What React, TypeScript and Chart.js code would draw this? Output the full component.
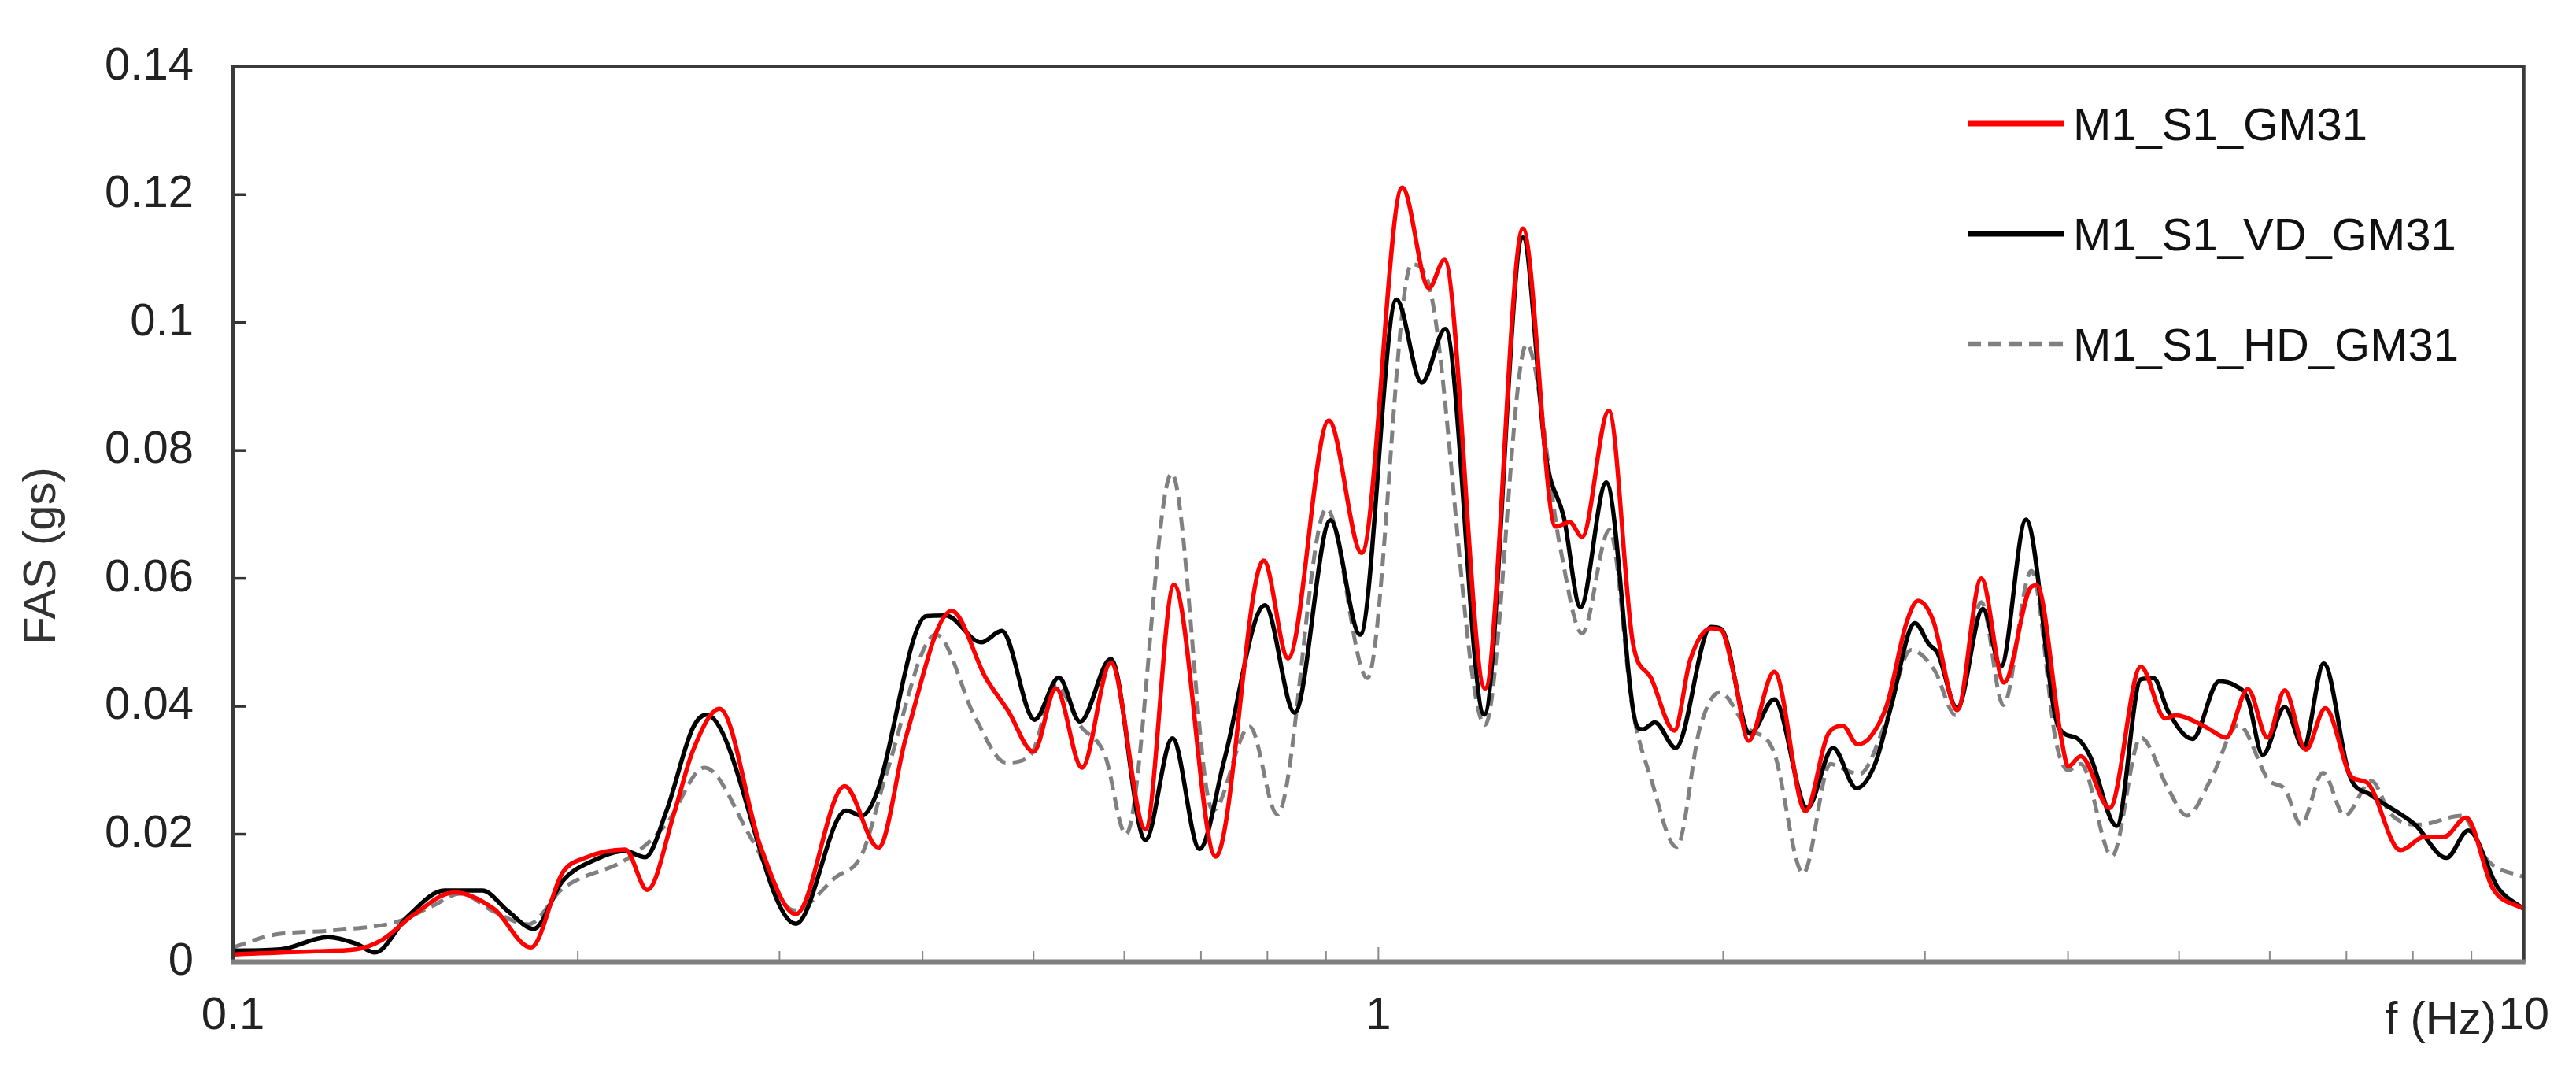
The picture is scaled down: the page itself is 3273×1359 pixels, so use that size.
import React, { useEffect, useRef } from 'react';
import { Chart, registerables } from 'chart.js';

Chart.register(...registerables);

// ---------------- data ----------------
const seriesNames = ['M1_S1_GM31', 'M1_S1_VD_GM31', 'M1_S1_HD_GM31'];

const redFreq = [0.1, 0.118, 0.128, 0.135, 0.144, 0.156, 0.169, 0.182, 0.194, 0.203, 0.220, 0.230, 0.243, 0.252, 0.266, 0.289, 0.310, 0.342, 0.366, 0.387, 0.424, 0.454, 0.475, 0.500, 0.523, 0.551, 0.584, 0.626, 0.663, 0.721, 0.794, 0.834, 0.905, 0.967, 1.049, 1.107, 1.142, 1.239, 1.337, 1.428, 1.469, 1.506, 1.589, 1.668, 1.729, 1.813, 1.871, 1.951, 1.992, 2.046, 2.104, 2.216, 2.360, 2.470, 2.545, 2.618, 2.685, 2.779, 2.890, 2.959, 3.049, 3.201, 3.360, 3.517, 3.716, 3.757, 3.945, 4.002, 4.103, 4.349, 4.630, 4.862, 4.962, 5.284, 5.495, 5.742, 5.973, 6.183, 6.451, 6.709, 7.078, 7.293, 7.802, 8.190, 8.520, 8.903, 9.39, 10];
const redFas = [0.0012, 0.0017, 0.002, 0.0035, 0.0075, 0.0109, 0.0083, 0.0023, 0.014, 0.0163, 0.0176, 0.0113, 0.0236, 0.033, 0.0396, 0.0179, 0.0075, 0.0275, 0.0179, 0.0353, 0.0549, 0.0445, 0.0393, 0.0329, 0.0428, 0.0304, 0.0468, 0.0208, 0.059, 0.0165, 0.0628, 0.0475, 0.0847, 0.064, 0.1211, 0.1054, 0.1098, 0.0428, 0.1147, 0.0681, 0.0688, 0.0665, 0.0862, 0.0499, 0.0445, 0.0362, 0.0472, 0.0522, 0.0519, 0.0445, 0.0346, 0.0454, 0.0236, 0.0357, 0.0369, 0.0341, 0.0351, 0.0402, 0.053, 0.0565, 0.0535, 0.0394, 0.06, 0.0437, 0.0587, 0.0589, 0.0351, 0.0306, 0.0322, 0.0241, 0.0462, 0.0381, 0.0386, 0.0367, 0.0351, 0.0427, 0.0351, 0.0425, 0.0332, 0.0397, 0.0289, 0.0281, 0.0175, 0.0196, 0.0196, 0.0226, 0.0116, 0.0083];

const blackFreq = [0.1, 0.110, 0.121, 0.128, 0.133, 0.142, 0.153, 0.165, 0.174, 0.183, 0.194, 0.207, 0.220, 0.229, 0.239, 0.252, 0.259, 0.310, 0.343, 0.354, 0.364, 0.403, 0.419, 0.450, 0.469, 0.501, 0.526, 0.549, 0.584, 0.626, 0.661, 0.698, 0.734, 0.796, 0.845, 0.908, 0.964, 1.037, 1.091, 1.144, 1.237, 1.337, 1.401, 1.452, 1.501, 1.581, 1.684, 1.702, 1.743, 1.818, 1.951, 1.992, 2.111, 2.216, 2.368, 2.494, 2.614, 2.714, 2.801, 2.940, 3.025, 3.078, 3.201, 3.371, 3.495, 3.676, 3.926, 4.064, 4.181, 4.411, 4.630, 4.750, 4.892, 5.137, 5.419, 5.575, 5.742, 5.916, 6.183, 6.421, 6.688, 7.043, 7.360, 8.036, 8.560, 8.944, 9.495, 10];
const blackFas = [0.0018, 0.002, 0.0039, 0.0029, 0.0015, 0.0071, 0.0112, 0.0112, 0.0079, 0.0052, 0.0127, 0.016, 0.0174, 0.0164, 0.0236, 0.0366, 0.0387, 0.006, 0.0237, 0.0229, 0.026, 0.0541, 0.0542, 0.05, 0.0518, 0.0379, 0.0445, 0.0376, 0.0474, 0.0191, 0.035, 0.0177, 0.0318, 0.0558, 0.039, 0.0691, 0.0512, 0.1036, 0.0906, 0.099, 0.0387, 0.1133, 0.0788, 0.0695, 0.0555, 0.075, 0.0367, 0.0364, 0.0375, 0.0335, 0.0524, 0.0521, 0.0357, 0.0411, 0.0241, 0.0335, 0.0272, 0.031, 0.0398, 0.053, 0.0497, 0.0483, 0.0397, 0.0552, 0.0462, 0.0692, 0.0367, 0.0351, 0.0322, 0.0213, 0.0442, 0.0444, 0.0392, 0.0349, 0.0439, 0.0434, 0.0411, 0.0324, 0.0399, 0.0336, 0.0467, 0.0292, 0.0261, 0.0215, 0.0163, 0.0206, 0.0116, 0.0083];

const grayFreq = [0.1, 0.108, 0.123, 0.139, 0.149, 0.158, 0.169, 0.181, 0.194, 0.222, 0.239, 0.258, 0.284, 0.309, 0.336, 0.354, 0.372, 0.411, 0.445, 0.473, 0.497, 0.523, 0.549, 0.577, 0.602, 0.660, 0.717, 0.772, 0.816, 0.901, 0.978, 1.069, 1.108, 1.239, 1.347, 1.441, 1.506, 1.591, 1.668, 1.729, 1.821, 1.909, 1.986, 2.097, 2.213, 2.349, 2.481, 2.533, 2.630, 2.770, 2.917, 3.059, 3.191, 3.360, 3.512, 3.716, 3.908, 4.002, 4.103, 4.369, 4.630, 4.892, 5.081, 5.334, 5.635, 5.999, 6.183, 6.390, 6.677, 6.977, 7.360, 7.656, 8.113, 8.82, 9.30, 10];
const grayFas = [0.0023, 0.0042, 0.005, 0.0063, 0.0087, 0.0107, 0.0079, 0.0059, 0.0115, 0.0164, 0.0216, 0.0304, 0.0191, 0.0081, 0.0133, 0.0168, 0.0295, 0.0512, 0.0381, 0.0312, 0.0324, 0.0433, 0.037, 0.0324, 0.02, 0.0764, 0.0237, 0.0368, 0.0231, 0.0709, 0.0444, 0.1091, 0.1056, 0.0371, 0.0966, 0.0649, 0.0514, 0.0676, 0.0393, 0.0288, 0.018, 0.0367, 0.0422, 0.0367, 0.033, 0.0139, 0.031, 0.0304, 0.0294, 0.0373, 0.0488, 0.0456, 0.0386, 0.0563, 0.0402, 0.0612, 0.0341, 0.03, 0.031, 0.0166, 0.0351, 0.0271, 0.0229, 0.0287, 0.0371, 0.0283, 0.0271, 0.0215, 0.0296, 0.0229, 0.0283, 0.0231, 0.0215, 0.0229, 0.0159, 0.0133];

const xTickValues = [0.1, 0.2, 0.3, 0.4, 0.5, 0.6, 0.7, 0.8, 0.9, 1, 2, 3, 4, 5, 6, 7, 8, 9, 10];
const xTickLabels = ['0.1', '', '', '', '', '', '', '', '', '1', '', '', '', '', '', '', '', '', '10'];
const yTickValues = [0, 0.02, 0.04, 0.06, 0.08, 0.1, 0.12, 0.14];
const yTickLabels = ['0', '0.02', '0.04', '0.06', '0.08', '0.1', '0.12', '0.14'];
const xAxisTitle = 'f (Hz)';
const yAxisTitle = 'FAS (gs)';

// ---------------- styles ----------------
const FONT = "'Liberation Sans', Arial, sans-serif";
const FS = 58;
const colors = ['#ff0000', '#000000', '#808080'];
const widths = [5.5, 5.5, 5];
const dashes: number[][] = [[], [], [17, 9]];

const zip = (xs: number[], ys: number[]) => xs.map((x, i) => ({ x, y: ys[i] }));

const decorPlugin = {
  id: 'decor',
  afterDatasetsDraw(chart: any) {
    const { ctx, chartArea: a, scales } = chart;
    const xs = scales.x;
    const ys = scales.y;
    ctx.save();
    // inner y ticks
    ctx.strokeStyle = '#333';
    ctx.lineWidth = 3.5;
    ctx.setLineDash([]);
    yTickValues.forEach((v) => {
      if (v === 0 || v === 0.14) return;
      const py = ys.getPixelForValue(v);
      ctx.beginPath();
      ctx.moveTo(a.left, py);
      ctx.lineTo(a.left + 17, py);
      ctx.stroke();
    });
    // inner x ticks
    ctx.strokeStyle = '#8a8a8a';
    ctx.lineWidth = 2;
    xTickValues.forEach((v) => {
      if (v === 0.1 || v === 10) return;
      const px = xs.getPixelForValue(v);
      const len = v === 1 ? 19 : 14;
      ctx.beginPath();
      ctx.moveTo(px, a.bottom);
      ctx.lineTo(px, a.bottom - len);
      ctx.stroke();
    });
    // frame
    ctx.strokeStyle = '#3a3a3a';
    ctx.lineWidth = 4;
    ctx.beginPath();
    ctx.moveTo(a.left, a.bottom);
    ctx.lineTo(a.left, a.top);
    ctx.lineTo(a.right, a.top);
    ctx.lineTo(a.right, a.bottom);
    ctx.stroke();
    ctx.strokeStyle = '#808080';
    ctx.lineWidth = 7;
    ctx.beginPath();
    ctx.moveTo(a.left - 2, a.bottom);
    ctx.lineTo(a.right + 2, a.bottom);
    ctx.stroke();

    // legend
    ctx.font = `${FS}px ${FONT}`;
    ctx.textAlign = 'left';
    ctx.textBaseline = 'alphabetic';
    seriesNames.forEach((name, i) => {
      const ly = 157 + i * 140;
      ctx.strokeStyle = colors[i];
      ctx.lineWidth = widths[i] + 1.5;
      ctx.setLineDash(dashes[i]);
      ctx.beginPath();
      ctx.moveTo(2500, ly);
      ctx.lineTo(2623, ly);
      ctx.stroke();
      ctx.setLineDash([]);
      ctx.fillStyle = '#111';
      ctx.fillText(name, 2634, ly + 21);
    });

    // axis titles
    ctx.fillStyle = '#222';
    ctx.textAlign = 'right';
    ctx.fillText(xAxisTitle, 3172, 1313);
    ctx.save();
    ctx.translate(70, 706);
    ctx.rotate(-Math.PI / 2);
    ctx.textAlign = 'center';
    ctx.fillStyle = '#333';
    ctx.fillText(yAxisTitle, 0, 0);
    ctx.restore();
    ctx.restore();
  },
};

export default function App() {
  const ref = useRef<HTMLCanvasElement | null>(null);
  useEffect(() => {
    if (!ref.current) return;
    const series = [zip(redFreq, redFas), zip(blackFreq, blackFas), zip(grayFreq, grayFas)];
    const chart = new Chart(ref.current, {
      type: 'line',
      data: {
        datasets: series.map((d, i) => ({
          label: seriesNames[i],
          data: d,
          borderColor: colors[i],
          borderWidth: widths[i],
          borderDash: dashes[i],
          pointRadius: 0,
          fill: false,
          cubicInterpolationMode: 'monotone' as const,
        })),
      },
      options: {
        animation: false,
        responsive: false,
        devicePixelRatio: 1,
        layout: { padding: { left: 0, right: 46, top: 65, bottom: 0 } },
        plugins: { legend: { display: false }, tooltip: { enabled: false } },
        scales: {
          x: {
            type: 'logarithmic',
            min: 0.1,
            max: 10,
            afterBuildTicks: (s: any) => {
              s.ticks = xTickValues.map((v) => ({ value: v }));
            },
            afterFit: (s: any) => {
              s.height = 137;
            },
            ticks: {
              autoSkip: false,
              maxRotation: 0,
              padding: 34,
              color: '#222',
              font: { family: FONT, size: FS },
              callback: (v: any) => {
                const i = xTickValues.indexOf(Number(v));
                return i >= 0 ? xTickLabels[i] : '';
              },
            },
            grid: { display: false, drawTicks: false },
            border: { display: false },
          },
          y: {
            min: 0,
            max: 0.14,
            afterBuildTicks: (s: any) => {
              s.ticks = yTickValues.map((v) => ({ value: v }));
            },
            afterFit: (s: any) => {
              s.width = 296;
            },
            ticks: {
              padding: 50,
              color: '#222',
              font: { family: FONT, size: FS },
              callback: (v: any) => {
                const i = yTickValues.findIndex((t) => Math.abs(t - Number(v)) < 1e-9);
                return i >= 0 ? yTickLabels[i] : '';
              },
            },
            grid: { display: false, drawTicks: false },
            border: { display: false },
          },
        },
      },
      plugins: [decorPlugin],
    } as any);
    return () => chart.destroy();
  }, []);
  return (
    <div style={{ position: 'fixed', left: 0, top: 0, width: 3273, height: 1359, background: '#fff' }}>
      <canvas ref={ref} width={3273} height={1359} style={{ display: 'block', width: 3273, height: 1359 }} />
    </div>
  );
}
